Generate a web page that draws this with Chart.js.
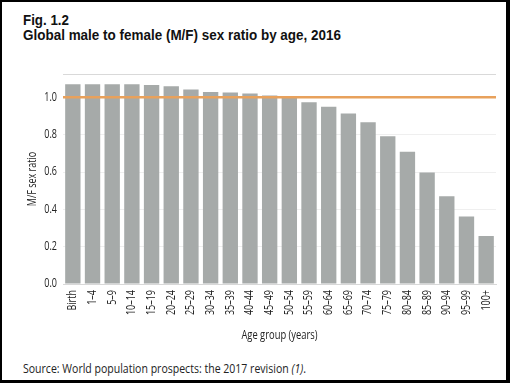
<!DOCTYPE html>
<html>
<head>
<meta charset="utf-8">
<script src="https://cdn.jsdelivr.net/npm/chart.js@4/dist/chart.umd.min.js"></script>
<style>
  html, body { margin: 0; padding: 0; background: #000; width: 510px; height: 383px; overflow: hidden; }
  #frame { position: absolute; left: 2px; top: 2px; width: 504px; height: 378px; background: #fff; }
  #c { position: absolute; left: 0; top: 0; }
  .txt { position: absolute; left: 23px; white-space: nowrap; transform-origin: 0 50%; }
  .title { font-family: 'Liberation Sans', Arial, sans-serif; font-weight: bold; font-size: 15.5px; color: #111; line-height: 16px; }
  #source { top: 359px; font-family: 'Open Sans', sans-serif; font-size: 13px; color: #222; line-height: 18px; }
</style>
</head>
<body>
<div id="frame"></div>
<div class="txt title" id="t1" style="top:12px">Fig. 1.2</div>
<div class="txt title" id="t2" style="top:27px">Global male to female (M/F) sex ratio by age, 2016</div>
<div class="txt" id="source">Source: World population prospects: the 2017 revision <i>(1)</i>.</div>
<canvas id="c" width="510" height="383"></canvas>
<script>
const categories = ['Birth','1–4','5–9','10–14','15–19','20–24','25–29','30–34','35–39','40–44','45–49','50–54','55–59','60–64','65–69','70–74','75–79','80–84','85–89','90–94','95–99','100+'];
const sexRatio = [1.07,1.07,1.07,1.07,1.066,1.06,1.042,1.028,1.026,1.02,1.01,0.998,0.974,0.949,0.914,0.866,0.791,0.709,0.597,0.47,0.362,0.257];
const yTickValues = [0,0.2,0.4,0.6,0.8,1.0];
const yMax = 1.125;
const referenceLine = 1.0;

// condense HTML text to the narrow widths of the original typeface
function fitWidth(id, target) {
  const el = document.getElementById(id);
  const w = el.getBoundingClientRect().width;
  el.style.transform = 'scaleX(' + (target / w) + ')';
}
fitWidth('t1', 46);
fitWidth('t2', 318);
fitWidth('source', 283);

// condensed canvas text (original uses a narrow typeface)
const SQUEEZE = 0.75;
const canvas = document.getElementById('c');
const cctx = canvas.getContext('2d');
const origFill = cctx.fillText.bind(cctx);
cctx.fillText = function (t, x, y, maxW) {
  this.save();
  this.translate(x, y);
  this.scale(SQUEEZE, 1);
  if (maxW === undefined) origFill(t, 0, 0); else origFill(t, 0, 0, maxW / SQUEEZE);
  this.restore();
};

Chart.defaults.font.family = "'Open Sans', sans-serif";
Chart.defaults.color = '#222';

const refLinePlugin = {
  id: 'refLine',
  afterDatasetsDraw(chart) {
    const y = chart.scales.y.getPixelForValue(referenceLine);
    const {left, right} = chart.chartArea;
    const ctx = chart.ctx;
    ctx.save();
    ctx.strokeStyle = '#E8A15C';
    ctx.lineWidth = 2.5;
    ctx.beginPath();
    ctx.moveTo(left, y);
    ctx.lineTo(right, y);
    ctx.stroke();
    ctx.restore();
  }
};

new Chart(canvas, {
  type: 'bar',
  data: {
    labels: categories,
    datasets: [{
      data: sexRatio,
      backgroundColor: '#A6AAA9',
      borderWidth: 0,
      categoryPercentage: 1.0,
      barPercentage: 0.78
    }]
  },
  options: {
    responsive: false,
    animation: false,
    layout: { padding: { left: 0, right: 14, top: 74, bottom: 38 } },
    plugins: { legend: { display: false }, tooltip: { enabled: false } },
    scales: {
      x: {
        grid: { display: false, drawTicks: false },
        border: { display: true, color: '#d8d8d8', width: 1 },
        ticks: { minRotation: 90, maxRotation: 90, padding: 6, autoSkip: false, font: { size: 12 }, color: '#222' },
        title: { display: true, text: 'Age group (years)', font: { size: 12.5 }, color: '#222', padding: { top: 0, bottom: 2 } },
        afterFit(scale) { scale.height = 61; }
      },
      y: {
        min: 0,
        max: yMax,
        afterBuildTicks(scale) {
          scale.ticks = yTickValues.concat([yMax]).map(v => ({ value: v }));
        },
        grid: {
          drawTicks: false,
          color: ctx => (ctx.tick && ctx.tick.value === yMax) ? '#d9d9d9' : '#efefef',
          lineWidth: 1
        },
        border: { display: false },
        ticks: {
          padding: 6,
          font: { size: 12 },
          color: '#222',
          callback: v => (v === yMax ? '' : Number(v).toFixed(1))
        },
        title: { display: true, text: 'M/F sex ratio', font: { size: 12 }, color: '#222', padding: { top: 25, bottom: 0 } },
        afterFit(scale) { scale.width = 63; }
      }
    }
  },
  plugins: [refLinePlugin]
});
</script>
</body>
</html>
